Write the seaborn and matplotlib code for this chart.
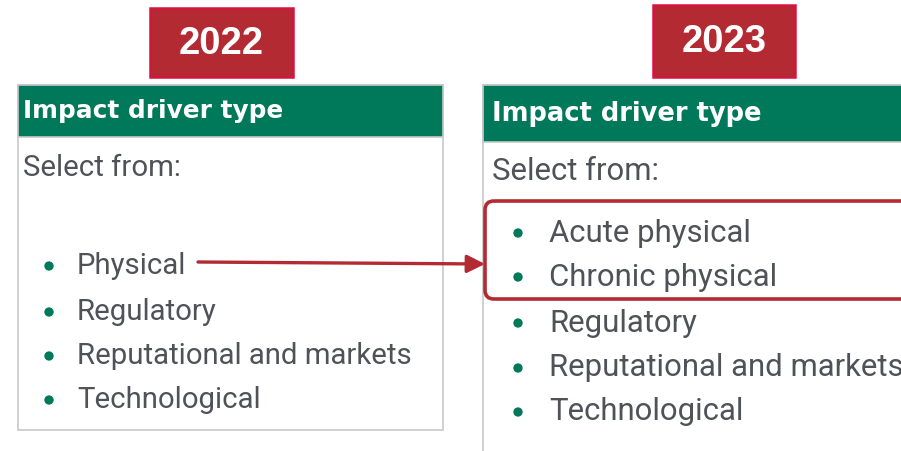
import pandas as pd
import matplotlib.pyplot as plt
import seaborn as sns
from matplotlib.patches import Rectangle, FancyBboxPatch

# Content
years = ['2022', '2023']
header = 'Impact driver type'
prompt = 'Select from:'
items_2022 = ['Physical', 'Regulatory', 'Reputational and markets', 'Technological']
items_2023 = ['Acute physical', 'Chronic physical', 'Regulatory', 'Reputational and markets', 'Technological']

# Colours
green = '#00785A'
red = '#B32A33'
crimson = '#D5143F'
grey_txt = '#4F5358'
border = '#C8C8C8'

sns.set_theme(style='white')
plt.rcParams['font.family'] = ['Roboto', 'DejaVu Sans']

fig = plt.figure(figsize=(9.01, 4.51), dpi=100)
ax = fig.add_axes([0, 0, 1, 1])
ax.set_xlim(0, 901)
ax.set_ylim(451, 0)
ax.axis('off')

# layout of each panel
panels = [
    dict(x0=18, x1=443, top=85, hbot=137, bot=430, year_box=(150, 8, 293, 77),
         txt_x=23, head_y=111, sel_y=168, bul_x=49, item_x=77,
         item_y=[266, 312, 356, 400], items=items_2022, fs=21.2, hfs=17.8),
    dict(x0=483, x1=905, top=85, hbot=142, bot=460, year_box=(653, 5, 795, 77),
         txt_x=492, head_y=114, sel_y=172, bul_x=518, item_x=549,
         item_y=[233, 277, 323, 368, 412], items=items_2023, fs=22.4, hfs=18.5),
]

for yr, p in zip(years, panels):
    bx0, by0, bx1, by1 = p['year_box']
    ax.add_patch(Rectangle((bx0, by0), bx1 - bx0, by1 - by0, facecolor=red,
                           edgecolor=crimson, lw=1.8, zorder=2))
    ax.text((bx0 + bx1) / 2, (by0 + by1) / 2 + 1, yr, color='white', fontsize=27.5,
            fontweight='bold', family=['Liberation Sans', 'DejaVu Sans'],
            ha='center', va='center', zorder=3)
    # panel frame
    ax.add_patch(Rectangle((p['x0'], p['top']), p['x1'] - p['x0'], p['bot'] - p['top'],
                           facecolor='white', edgecolor=border, lw=1.2, zorder=1))
    ax.add_patch(Rectangle((p['x0'], p['top']), p['x1'] - p['x0'], p['hbot'] - p['top'],
                           facecolor=green, edgecolor=border, lw=1.2, zorder=2))
    ax.text(p['txt_x'], p['head_y'], header, color='white', fontsize=p['hfs'],
            fontweight='bold', family=['DejaVu Sans'], va='center', zorder=3)
    ax.text(p['txt_x'], p['sel_y'], prompt, color=grey_txt, fontsize=p['fs'],
            va='center', zorder=3)
    df = pd.DataFrame({'x': [p['bul_x']] * len(p['items']), 'y': p['item_y'], 'item': p['items']})
    sns.scatterplot(data=df, x='x', y='y', ax=ax, color=green, s=45, marker='o',
                    edgecolor='none', zorder=4)
    for _, r in df.iterrows():
        ax.text(p['item_x'], r['y'], r['item'], color=grey_txt, fontsize=p['fs'],
                va='center', zorder=4)

ax.set_xlim(0, 901)
ax.set_ylim(451, 0)
ax.set_xlabel('')
ax.set_ylabel('')

# Highlight box around the split physical items
ax.add_patch(FancyBboxPatch((485, 201), 440, 98, boxstyle='round,pad=0,rounding_size=9',
                            facecolor='none', edgecolor=red, lw=2.6, zorder=5))

# Arrow from Physical to the new items
ax.annotate('', xy=(485, 264), xytext=(198, 262),
            arrowprops=dict(arrowstyle='-|>,head_length=0.9,head_width=0.45',
                            color=red, lw=2.4, shrinkA=0, shrinkB=0), zorder=6)

fig.savefig('out.png', dpi=100)
